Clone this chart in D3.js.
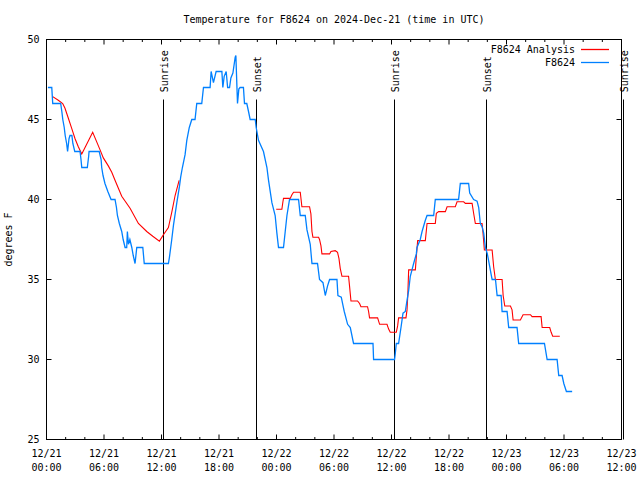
<!DOCTYPE html>
<html><head><meta charset="utf-8">
<script src="https://cdn.jsdelivr.net/npm/d3@7"></script>
<style>
body{margin:0;background:#fff}
svg{display:block}
text{font-family:"DejaVu Sans Mono",monospace;font-size:10px;fill:#000}
</style>
</head><body><svg id="c" width="640" height="480"></svg>
<script>
const title = "Temperature for F8624 on 2024-Dec-21 (time in UTC)";
const yLabel = "degrees F";
const startTime = Date.UTC(2024, 11, 21, 0, 0);
const endTime = Date.UTC(2024, 11, 23, 12, 0);
const yTicks = [25, 30, 35, 40, 45, 50];
const seriesNames = ["F8624 Analysis", "F8624"];
const seriesColors = ["#ff0000", "#0080ff"];
// [hours since 12/21 00:00 UTC, label]
const sunEvents = [[12.19, "Sunrise"], [21.89, "Sunset"], [36.29, "Sunrise"], [45.89, "Sunset"], [60.21, "Sunrise"]];
// observations [hours, degF]
const obs = [[0.15,47],[0.55,47],[0.65,46],[1.48,46],[1.6,45.5],[1.7,45],[1.85,44.5],[1.95,44],[2.1,43.5],[2.2,43],[2.35,43.8],[2.45,44],[2.65,44],[2.75,43.5],[2.95,43],[3.5,43],[3.6,42.5],[3.68,42],[4.26,42],[4.4,42.7],[4.44,43],[5.5,43],[5.7,42.5],[5.76,42],[5.9,41.5],[6.1,41],[6.4,40.5],[6.74,40],[7.15,40],[7.3,39.5],[7.4,39],[7.6,38.5],[7.85,38],[8.0,37.5],[8.2,37],[8.37,37],[8.44,38],[8.55,37.2],[8.7,37.5],[8.9,37],[9.05,36.5],[9.24,36],[9.42,37],[10.05,37],[10.2,36],[12.72,36],[12.83,36.4],[13.07,37.5],[13.25,38.4],[13.6,39.8],[13.87,40.8],[14.0,41.4],[14.18,42],[14.46,42.8],[14.64,43.7],[14.9,44.5],[15.16,45],[15.5,45],[15.68,46],[16.2,46],[16.38,47],[17.07,47],[17.18,48],[17.42,47.3],[17.7,48],[18.3,48],[18.4,47],[18.54,47.7],[18.75,48],[18.9,47],[19.1,47],[19.24,47.6],[19.45,47.9],[19.69,48.9],[19.76,49],[19.93,46],[20.07,46.9],[20.2,47],[20.55,47],[20.66,46],[20.9,46],[21.08,45.5],[21.25,45],[21.78,45],[21.88,44.5],[22.12,43.7],[22.64,43],[23.0,42],[23.17,41.2],[23.52,39.8],[23.86,39],[24.04,37.9],[24.21,37],[24.73,37],[24.91,38],[25.09,39],[25.36,40],[26.3,40],[26.48,39],[27.0,39],[27.18,38.1],[27.52,37.2],[27.7,36],[28.28,36],[28.49,35],[28.85,34.8],[29.09,34],[29.33,34.6],[29.54,35],[30.31,35],[30.41,34],[30.76,33.9],[30.93,33.4],[31.07,33],[31.42,32.2],[31.7,32],[32.04,31],[34.07,31],[34.13,30],[36.32,30],[36.4,30.4],[36.5,31],[36.74,31],[36.99,32],[37.2,32.9],[37.44,33],[37.62,33.7],[37.79,34.3],[37.96,35.2],[38.14,35.6],[38.31,36],[38.59,36.6],[38.66,37],[39.0,37.5],[39.19,38],[39.53,38.7],[39.71,39],[40.4,39],[40.57,40],[43.0,40],[43.18,41],[44.05,41],[44.16,40.4],[44.57,40],[44.93,39.9],[45.1,39.5],[45.27,38.5],[45.45,38.3],[45.62,37.9],[45.8,37],[46.0,36.6],[46.25,35.8],[46.4,35.3],[46.5,35],[46.85,35],[47.02,34],[47.44,34],[47.54,33],[48.06,33],[48.23,32],[49.1,32],[49.27,31],[51.96,31],[52.24,30],[53.28,30],[53.45,29],[53.8,29],[53.98,28.5],[54.25,28],[54.85,28]];
// analysis [hours, degF]; null marks the gap
const analysis = [[0.65,46.43],[1.23,46.2],[1.69,46.0],[1.93,45.7],[2.28,45.08],[2.63,44.45],[2.98,43.8],[3.32,43.3],[3.68,42.84],[4.82,44.2],[5.24,43.6],[5.59,43.1],[5.93,42.6],[6.45,42.1],[6.81,41.7],[7.15,41.2],[7.5,40.7],[7.85,40.2],[8.72,39.45],[9.59,38.5],[10.46,38.0],[11.09,37.7],[11.78,37.4],[12.2,37.8],[12.72,38.25],[13.07,39.2],[13.42,40.25],[13.84,41.2],
[18,null],
[23.97,39.39],[24.56,39.39],[24.67,39.86],[24.73,40.07],[25.43,40.07],[25.61,40.3],[25.78,40.45],[26.48,40.45],[26.65,39.55],[27.45,39.55],[27.59,39.1],[27.7,38.0],[27.8,37.64],[28.39,37.64],[28.49,37.5],[28.64,37.1],[28.74,36.6],[29.54,36.6],[29.68,36.75],[30.13,36.8],[30.37,36.7],[30.52,36.3],[30.65,35.7],[30.83,35.2],[31.52,35.2],[31.62,34.6],[31.77,33.66],[32.46,33.66],[32.67,33.5],[32.81,33.3],[33.5,33.3],[33.61,33.0],[33.71,32.6],[34.55,32.6],[34.76,32.2],[35.53,32.2],[35.7,31.9],[35.87,31.7],[36.5,31.7],[36.64,32.1],[36.74,32.6],[37.51,32.6],[37.62,33.1],[37.7,34.0],[37.79,35.6],[38.49,35.6],[38.6,36.5],[38.73,37.43],[39.53,37.43],[39.71,38.5],[40.57,38.5],[40.68,39.14],[40.92,39.24],[41.62,39.24],[41.8,39.55],[42.66,39.55],[42.84,39.86],[43.53,39.86],[43.71,39.76],[44.41,39.76],[44.57,39.14],[44.75,38.5],[45.45,38.5],[45.55,37.9],[45.69,36.84],[46.5,36.84],[46.66,35.8],[46.84,35.0],[47.54,35.0],[47.65,34.0],[47.82,33.34],[48.41,33.34],[48.58,33.1],[48.69,32.47],[49.45,32.47],[49.73,32.8],[50.5,32.8],[50.67,32.68],[51.61,32.68],[51.72,32.0],[52.51,32.0],[52.66,31.7],[52.82,31.45],[53.56,31.45]];

const svg = d3.select("#c");
const L = 46.5, R = 621.5, T = 39.5, B = 439.5;
const toDate = h => new Date(startTime + h * 3600e3);
const x = d3.scaleUtc().domain([new Date(startTime), new Date(endTime)]).range([L, R]);
const y = d3.scaleLinear().domain([25, 50]).range([B, T]);

const major = d3.utcHour.every(6).range(new Date(startTime), new Date(endTime + 1));
const minor = d3.utcHour.every(2).range(new Date(startTime), new Date(endTime + 1)).filter(d => d.getUTCHours() % 6 !== 0);

// title
svg.append("text").attr("x", (L + R) / 2).attr("y", 23).attr("text-anchor", "middle").text(title);
// y label
svg.append("text").attr("transform", `translate(12,${(T + B) / 2}) rotate(-90)`).attr("text-anchor", "middle").text(yLabel);

function clean(g){ g.select(".domain").remove(); }
// bottom axis
const gB = svg.append("g").attr("transform", `translate(0,${B})`)
  .call(d3.axisBottom(x).tickValues(major).tickSize(-5).offset(0).tickFormat(d3.utcFormat("%m/%d")));
clean(gB);
const fD = d3.utcFormat("%m/%d"), fT = d3.utcFormat("%H:%M");
gB.selectAll(".tick text").attr("y", 17.5).attr("dy", null).each(function(d){
  const t = d3.select(this); t.text(null);
  t.append("tspan").attr("x", 0).text(fD(d));
  t.append("tspan").attr("x", 0).attr("dy", 14).text(fT(d));
});
const gBm = svg.append("g").attr("transform", `translate(0,${B})`)
  .call(d3.axisBottom(x).tickValues(minor).tickSize(-2.5).offset(0).tickFormat(""));
clean(gBm);
// top axis (mirror)
const gT = svg.append("g").attr("transform", `translate(0,${T})`)
  .call(d3.axisTop(x).tickValues(major).tickSize(-5).offset(0).tickFormat(""));
clean(gT);
const gTm = svg.append("g").attr("transform", `translate(0,${T})`)
  .call(d3.axisTop(x).tickValues(minor).tickSize(-2.5).offset(0).tickFormat(""));
clean(gTm);
// left axis
const gL = svg.append("g").attr("transform", `translate(${L},0)`)
  .call(d3.axisLeft(y).tickValues(yTicks).tickSize(-5).tickPadding(7).offset(0));
clean(gL);
// right axis (mirror)
const gR = svg.append("g").attr("transform", `translate(${R},0)`)
  .call(d3.axisRight(y).tickValues(yTicks).tickSize(-5).offset(0).tickFormat(""));
clean(gR);

// border
svg.append("rect").attr("x", L).attr("y", T).attr("width", R - L).attr("height", B - T)
  .attr("fill", "none").attr("stroke", "#000").attr("stroke-width", 1);

// sunrise / sunset
const lineTop = T + 0.15 * (B - T);
const textBottom = T + 0.132 * (B - T);
const ev = svg.append("g");
sunEvents.forEach(([h, label]) => {
  const xx = Math.round(x(toDate(h)) - 0.5) + 0.5;
  ev.append("line").attr("x1", xx).attr("x2", xx).attr("y1", lineTop).attr("y2", B)
    .attr("stroke", "#000").attr("stroke-width", 1);
  ev.append("text").attr("transform", `translate(${xx + 4.5},${textBottom}) rotate(-90)`)
    .attr("text-anchor", "start").text(label);
});

// series
const line = d3.line().defined(d => d[1] != null).x(d => x(toDate(d[0]))).y(d => y(d[1]));
svg.append("path").datum(analysis).attr("d", line).attr("fill", "none")
  .attr("stroke", seriesColors[0]).attr("stroke-width", 1.1).attr("stroke-linejoin", "miter");
svg.append("path").datum(obs).attr("d", line).attr("fill", "none")
  .attr("stroke", seriesColors[1]).attr("stroke-width", 1.3).attr("stroke-linejoin", "miter");

// legend
const lg = svg.append("g");
seriesNames.forEach((n, i) => {
  const yy = 49.5 + i * 13;
  lg.append("text").attr("x", 575).attr("y", yy).attr("dy", "0.35em").attr("text-anchor", "end").text(n);
  lg.append("line").attr("x1", 581).attr("x2", 609).attr("y1", yy).attr("y2", yy)
    .attr("stroke", seriesColors[i]).attr("stroke-width", 1.3);
});
</script></body></html>
